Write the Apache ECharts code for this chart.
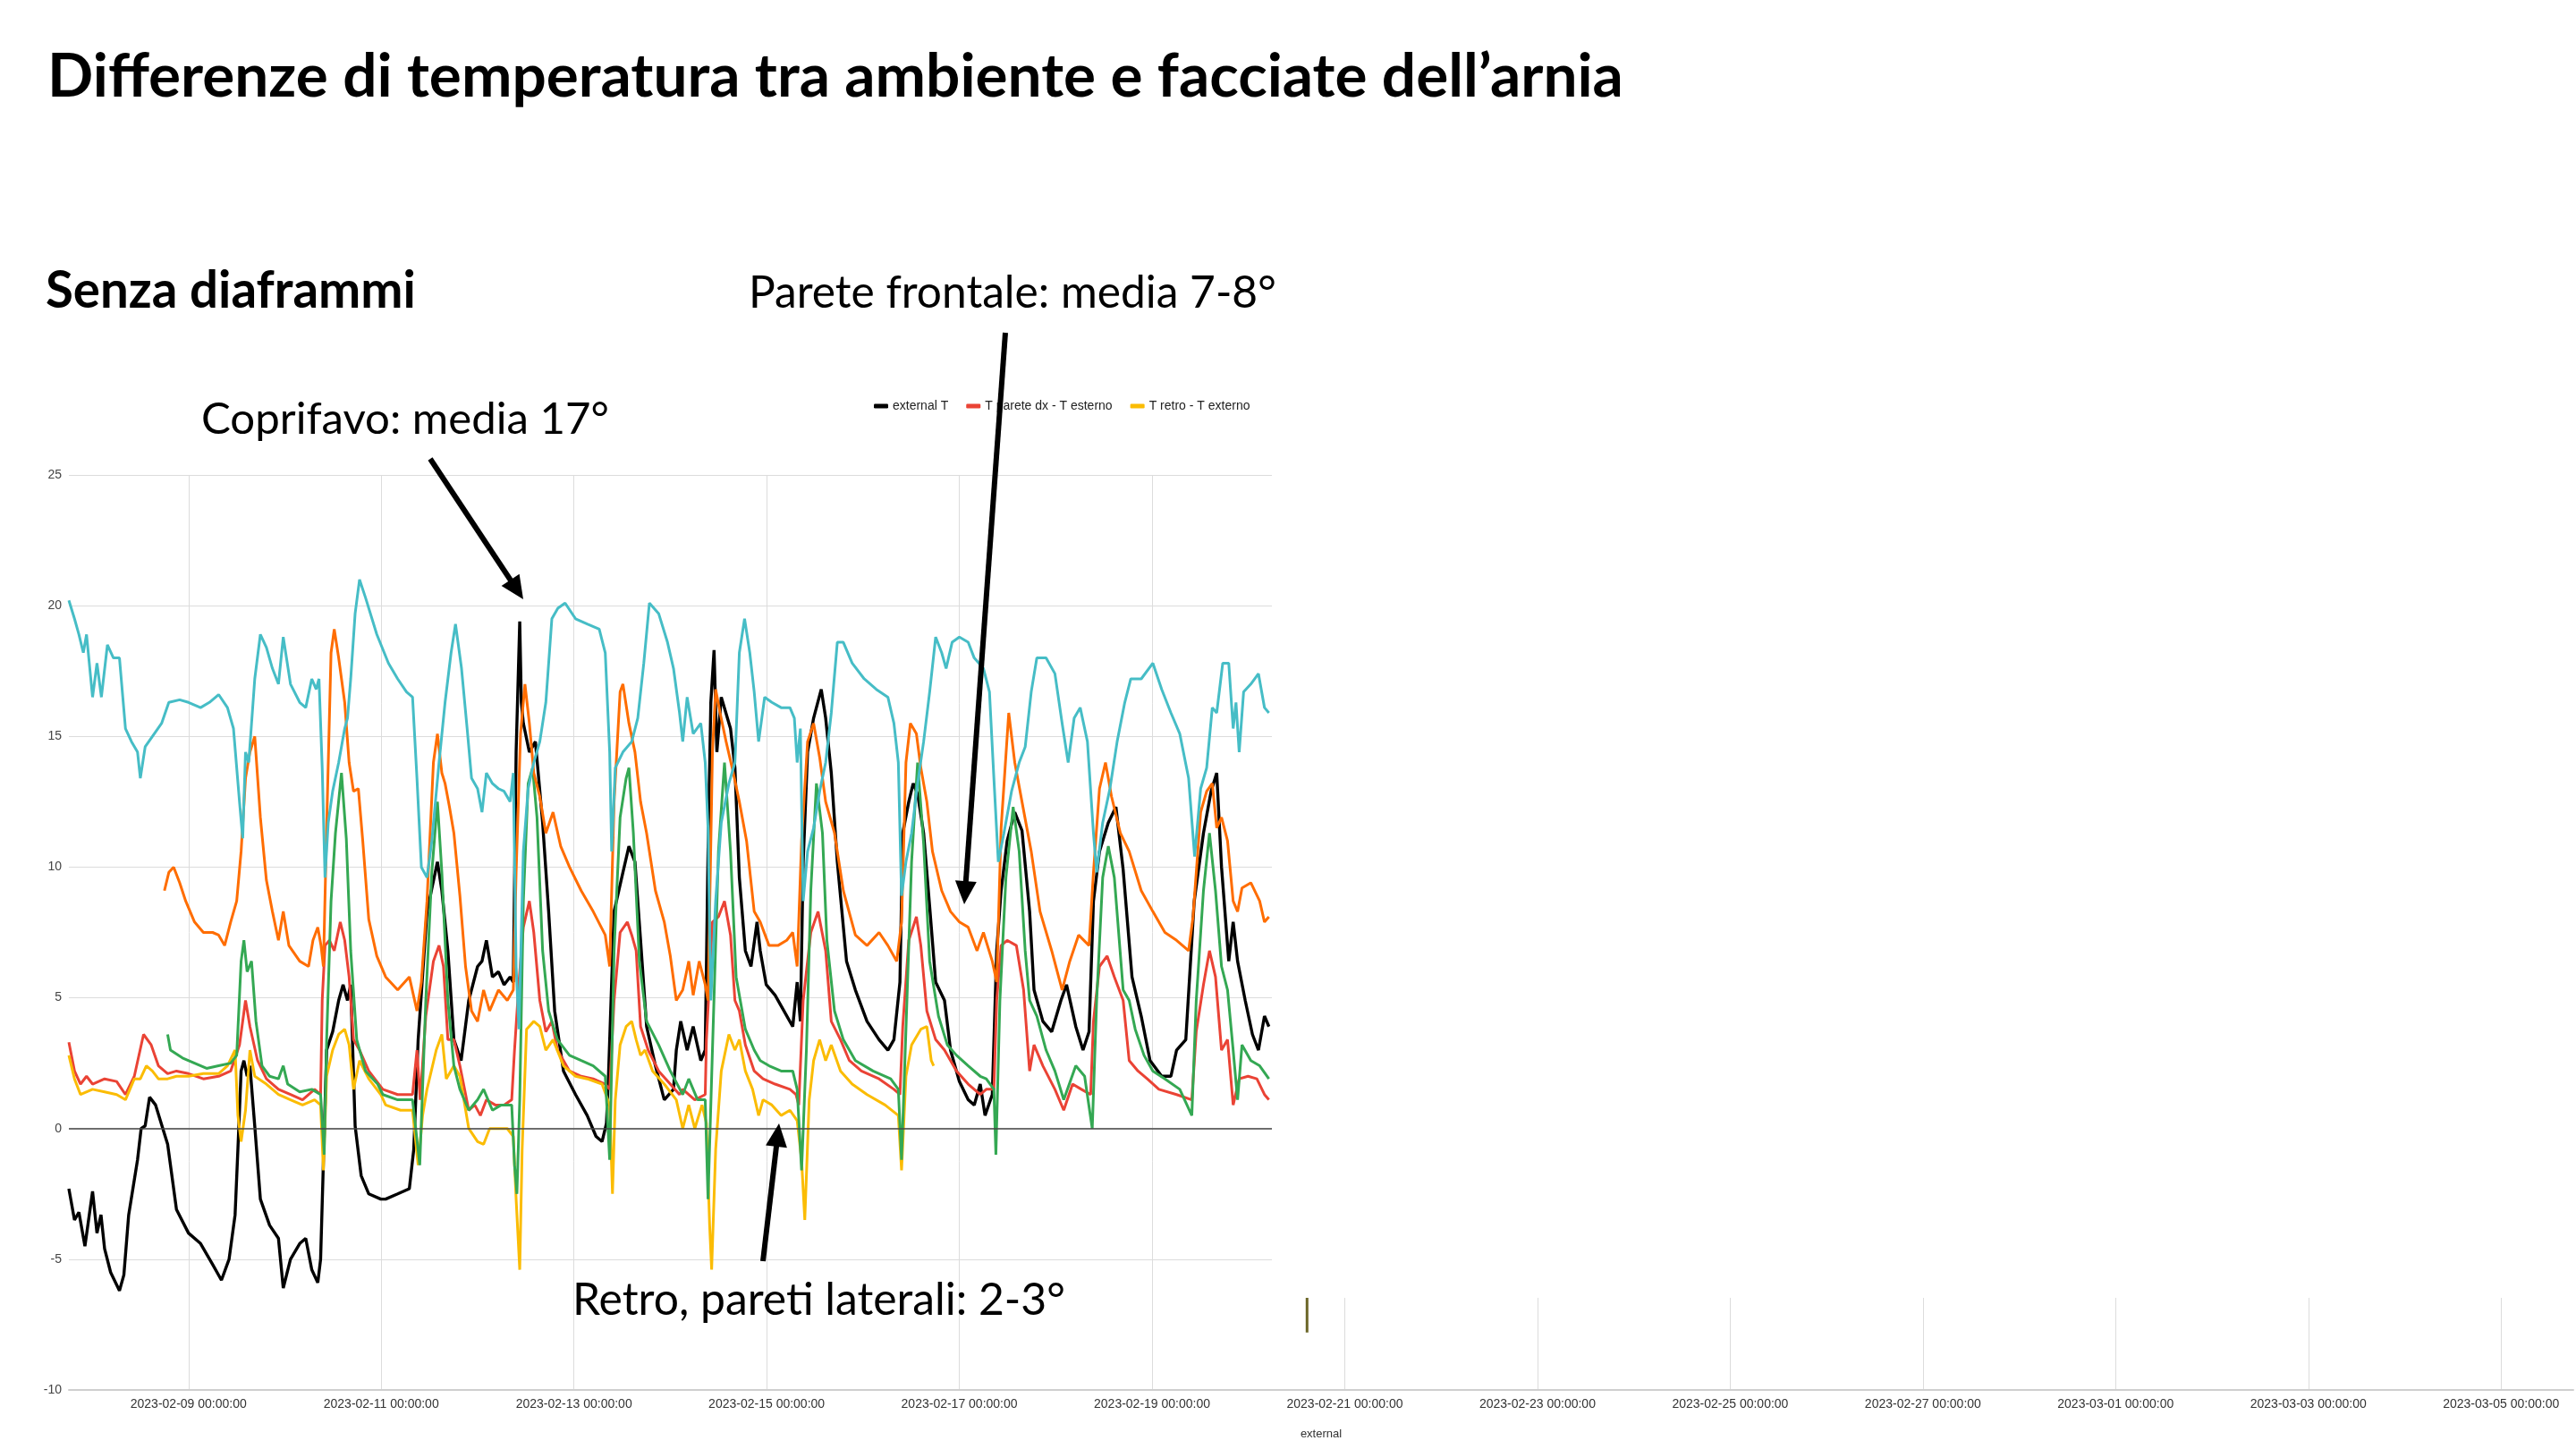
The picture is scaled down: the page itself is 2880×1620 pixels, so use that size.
<!DOCTYPE html>
<html><head><meta charset="utf-8">
<script src="https://cdn.jsdelivr.net/npm/echarts@6/dist/echarts.min.js"></script>
<style>html,body{margin:0;padding:0;background:#fff}#c{width:2880px;height:1620px}</style>
</head><body><div id="c"></div>
<script>
// x values are hours relative to 2023-02-09 00:00 (UTC)
const BASE = Date.UTC(2023, 1, 9);
const xMin = -29.8, xMax = 594;
const tickHours = [0,48,96,144,192,240,288,336,384,432,480,528,576];
const tickLabels = ['2023-02-09 00:00:00','2023-02-11 00:00:00','2023-02-13 00:00:00','2023-02-15 00:00:00','2023-02-17 00:00:00','2023-02-19 00:00:00','2023-02-21 00:00:00','2023-02-23 00:00:00','2023-02-25 00:00:00','2023-02-27 00:00:00','2023-03-01 00:00:00','2023-03-03 00:00:00','2023-03-05 00:00:00'];
const legendNames = ['external T','T parete dx - T esterno','T retro - T externo'];

const externalT = [[-29.8,-2.3],[-28.4,-3.5],[-27.3,-3.2],[-25.8,-4.5],[-23.9,-2.4],[-22.8,-4.0],[-21.8,-3.3],[-20.9,-4.6],[-19.4,-5.5],[-17.2,-6.2],[-16.1,-5.6],[-14.9,-3.3],[-12.7,-1.2],[-11.8,0.0],[-10.8,0.1],[-9.7,1.2],[-8.2,0.9],[-5.2,-0.6],[-3.0,-3.1],[0,-4.0],[3.0,-4.4],[6.0,-5.2],[8.2,-5.8],[10.1,-5.0],[11.6,-3.3],[12.3,-0.8],[13.1,2.2],[13.8,2.6],[14.6,2.0],[15.3,2.4],[16.5,0.1],[17.9,-2.7],[20.2,-3.7],[22.4,-4.2],[23.6,-6.1],[25.4,-5.0],[27.7,-4.4],[29.2,-4.2],[30.7,-5.4],[32.2,-5.9],[32.9,-5.0],[33.5,-1.8],[34.4,3.0],[35.9,3.7],[37.4,4.9],[38.5,5.5],[39.6,4.9],[40.4,5.5],[41.5,0.1],[43.0,-1.8],[44.9,-2.5],[47.9,-2.7],[49.1,-2.7],[52.1,-2.5],[55.0,-2.3],[56.1,-0.8],[57.2,3.4],[59.4,8.3],[62.0,10.2],[63.1,9.1],[64.6,6.8],[66.1,3.4],[67.9,2.6],[69.8,4.9],[72.0,6.2],[73.1,6.4],[74.2,7.2],[75.7,5.8],[77.2,6.0],[78.6,5.5],[80.1,5.8],[80.9,5.6],[81.6,14.4],[82.5,19.4],[82.9,16.3],[83.4,15.5],[84.9,14.4],[86.4,14.8],[87.1,13.6],[88.2,11.7],[89.7,8.3],[91.2,4.5],[93.4,2.2],[96.4,1.3],[99.3,0.5],[101.5,-0.3],[103.0,-0.5],[104.1,0.2],[104.6,2.0],[106.0,8.3],[108.2,9.8],[109.7,10.8],[111.2,10.2],[112.6,7.2],[114.1,3.9],[116.3,2.4],[118.5,1.1],[120.8,1.5],[121.5,3.0],[122.6,4.1],[124.2,3.0],[125.7,3.9],[127.6,2.6],[128.7,3.0],[129.4,10.6],[130.1,16.3],[130.9,18.3],[131.6,14.4],[132.7,16.5],[135.0,15.3],[136.1,13.8],[137.2,9.6],[138.7,6.8],[140.1,6.2],[141.6,7.9],[142.4,6.8],[143.9,5.5],[146.1,5.1],[148.3,4.5],[150.5,3.9],[151.6,5.6],[152.4,4.1],[153.1,10.2],[154.2,14.4],[155.7,15.7],[157.6,16.8],[158.7,15.7],[160.1,13.6],[161.6,10.2],[163.9,6.4],[166.1,5.3],[169.0,4.1],[172.0,3.4],[174.2,3.0],[175.7,3.4],[177.2,5.6],[177.9,11.3],[179.4,12.5],[180.5,13.2],[181.6,12.8],[183.1,11.3],[184.6,8.5],[186.1,5.6],[188.3,4.9],[189.8,3.0],[192.0,1.8],[194.2,1.1],[195.7,0.9],[197.2,1.7],[198.4,0.5],[200.2,1.3],[201.3,6.8],[202.4,9.1],[203.9,11.0],[205.8,12.1],[207.6,11.4],[209.5,8.3],[210.6,5.3],[212.8,4.1],[215.0,3.7],[217.3,4.9],[218.7,5.5],[221.0,3.9],[222.8,3.0],[224.3,3.7],[225.4,8.7],[226.9,10.6],[229.1,11.7],[231.0,12.3],[232.8,9.9],[235.0,5.8],[237.3,4.3],[239.5,2.6],[242.4,2.0],[244.7,2.0],[246.1,3.0],[248.4,3.4],[250.5,8.7],[252.8,11.3],[254.7,12.9],[256.1,13.6],[257.3,10.0],[259.1,6.4],[260.2,7.9],[261.3,6.4],[263.2,4.9],[265.0,3.6],[266.5,3.0],[268.0,4.3],[269.1,3.9]];

const pareteDx = [[-29.8,3.3],[-28.4,2.2],[-26.9,1.7],[-25.4,2.0],[-23.9,1.7],[-20.9,1.9],[-17.9,1.8],[-15.7,1.3],[-13.5,2.0],[-11.2,3.6],[-9.3,3.2],[-7.5,2.4],[-5.2,2.1],[-3.0,2.2],[0,2.1],[3.7,1.9],[7.5,2.0],[10.5,2.2],[12.7,3.2],[14.2,4.9],[15.3,3.9],[17.2,2.6],[19.4,1.9],[22.4,1.5],[25.4,1.3],[28.4,1.1],[31.4,1.5],[32.9,1.3],[33.3,4.9],[34.0,7.0],[35.1,7.2],[36.3,6.8],[37.8,7.9],[38.9,7.2],[40.0,5.8],[41.1,3.4],[42.6,3.0],[44.9,2.2],[48.4,1.5],[52.1,1.3],[55.8,1.3],[56.9,3.0],[57.7,1.1],[59.1,4.3],[61.0,6.4],[62.4,7.0],[63.5,6.2],[64.6,3.4],[66.1,3.4],[67.6,2.4],[69.8,0.7],[71.3,0.9],[72.7,0.5],[74.2,1.1],[76.4,0.9],[78.6,0.9],[80.5,1.1],[81.2,3.0],[82.3,5.6],[83.4,7.7],[84.9,8.7],[86.0,7.5],[87.5,4.9],[89.0,3.7],[90.5,4.1],[91.9,3.0],[94.9,2.2],[97.8,2.0],[100.8,1.9],[103.8,1.7],[104.9,1.5],[106.0,4.9],[107.5,7.5],[109.3,7.9],[110.4,7.4],[111.5,6.8],[112.6,3.9],[114.5,3.0],[117.1,2.2],[120.0,1.7],[122.3,1.3],[123.1,1.5],[126.1,1.1],[128.7,1.3],[129.0,3.4],[130.5,7.9],[132.0,8.1],[133.5,8.7],[135.0,7.4],[136.1,4.9],[137.2,4.5],[138.7,3.2],[140.9,2.2],[143.1,1.9],[146.1,1.7],[149.8,1.5],[151.3,1.3],[152.0,0.9],[153.1,4.9],[155.0,7.5],[156.8,8.3],[158.7,6.8],[160.1,4.1],[162.4,3.4],[164.6,2.6],[167.6,2.2],[172.0,1.9],[175.7,1.5],[177.2,1.3],[177.9,3.9],[179.4,7.2],[181.3,8.1],[182.4,7.0],[183.9,4.5],[186.1,3.4],[188.3,3.0],[191.3,2.2],[194.2,1.7],[197.2,1.3],[198.7,1.5],[200.6,1.5],[201.3,4.9],[202.4,7.0],[203.9,7.2],[206.2,7.0],[208.0,5.3],[209.5,2.2],[210.6,3.2],[212.8,2.4],[215.8,1.5],[218.0,0.7],[220.2,1.7],[222.4,1.5],[224.7,1.3],[225.4,4.1],[226.9,6.2],[228.8,6.6],[230.6,5.8],[232.8,4.9],[234.3,2.6],[236.5,2.2],[238.8,1.9],[241.7,1.5],[246.1,1.3],[249.9,1.1],[251.0,3.7],[252.8,5.5],[254.3,6.8],[255.8,5.8],[257.3,3.0],[258.8,3.4],[260.2,0.9],[261.7,1.9],[263.9,2.0],[266.1,1.9],[268.0,1.3],[269.1,1.1]];

const retro = [[-29.8,2.8],[-28.4,1.9],[-26.9,1.3],[-23.9,1.5],[-20.9,1.4],[-17.9,1.3],[-15.7,1.1],[-13.5,1.9],[-12.0,1.9],[-10.5,2.4],[-9.0,2.2],[-7.5,1.9],[-5.2,1.9],[-3.0,2.0],[0,2.0],[3.7,2.1],[7.5,2.1],[9.7,2.4],[11.6,3.0],[12.3,0.5],[13.1,-0.5],[14.2,0.7],[15.3,3.0],[16.5,2.0],[19.4,1.7],[22.4,1.3],[25.4,1.1],[28.4,0.9],[31.4,1.1],[32.9,0.9],[33.6,-1.6],[34.4,2.0],[35.9,3.0],[37.4,3.6],[38.9,3.8],[40.0,3.2],[41.1,1.5],[42.6,2.6],[44.9,1.9],[47.9,1.3],[49.1,0.9],[52.8,0.7],[55.8,0.7],[57.2,-1.4],[58.3,0.5],[59.4,1.5],[61.7,3.0],[63.1,3.6],[64.2,1.9],[66.1,2.4],[67.6,2.0],[69.8,0.0],[72.0,-0.5],[73.5,-0.6],[75.0,0.0],[77.2,0.0],[79.4,0.0],[80.9,-0.3],[81.6,-2.7],[82.5,-5.4],[83.1,-0.8],[84.2,3.8],[86.0,4.1],[87.5,3.9],[89.0,3.0],[90.8,3.4],[93.4,2.4],[96.4,2.0],[99.3,1.9],[103.0,1.7],[104.9,0.9],[105.6,-2.5],[106.3,1.1],[107.5,3.2],[109.0,3.9],[110.4,4.1],[111.5,3.4],[112.6,2.8],[113.7,3.0],[115.6,2.2],[118.5,1.7],[121.5,1.1],[123.1,0.0],[124.6,0.9],[126.1,0.0],[127.9,0.9],[129.0,0.2],[129.8,-3.7],[130.3,-5.4],[131.3,-0.8],[132.7,2.2],[134.6,3.6],[136.1,3.0],[137.2,3.4],[138.7,2.2],[140.5,1.5],[142.0,0.5],[143.1,1.1],[145.3,0.9],[147.6,0.5],[149.8,0.7],[151.6,0.3],[152.7,-1.2],[153.5,-3.5],[154.6,1.1],[155.7,2.6],[157.2,3.4],[158.7,2.6],[160.1,3.2],[162.4,2.2],[165.3,1.7],[169.0,1.3],[173.5,0.9],[176.8,0.5],[177.6,-1.6],[178.7,2.0],[180.1,3.2],[182.4,3.8],[183.9,3.9],[185.0,2.6],[185.6,2.4]];

const pareteSx = [[-5.2,3.6],[-4.5,3.0],[-1.5,2.7],[1.5,2.5],[4.5,2.3],[7.5,2.4],[10.5,2.5],[12.0,2.8],[13.1,6.4],[13.8,7.2],[14.6,6.0],[15.7,6.4],[16.8,4.1],[18.3,2.4],[20.2,2.0],[22.4,1.9],[23.6,2.4],[24.7,1.7],[27.7,1.4],[30.7,1.5],[32.9,1.3],[33.8,-1.0],[34.4,3.4],[35.5,8.7],[36.6,11.3],[38.1,13.6],[39.3,11.1],[40.4,6.8],[41.9,3.4],[44.1,2.2],[47.1,1.7],[48.4,1.3],[52.1,1.1],[55.8,1.1],[57.6,-1.4],[59.1,4.9],[60.6,9.8],[62.0,12.5],[63.1,9.8],[64.6,4.9],[66.1,2.4],[67.6,1.5],[69.8,0.7],[72.0,1.1],[73.5,1.5],[75.7,0.7],[77.9,0.9],[80.5,0.9],[81.2,-1.4],[81.8,-2.5],[82.5,1.1],[83.4,8.7],[84.6,13.2],[85.7,13.8],[86.8,11.9],[88.2,6.8],[89.7,4.5],[91.9,3.4],[94.9,2.8],[97.8,2.6],[100.8,2.4],[103.8,2.0],[104.9,-1.2],[106.0,6.8],[107.5,11.9],[109.0,13.4],[109.7,13.8],[110.8,11.3],[112.3,6.4],[114.1,4.1],[117.1,3.2],[120.0,2.2],[123.1,1.3],[124.6,1.9],[126.8,1.1],[128.7,1.1],[129.4,-2.7],[130.5,3.0],[132.0,10.6],[133.5,14.0],[135.0,10.6],[136.4,5.8],[138.7,3.8],[140.9,3.0],[142.4,2.6],[144.6,2.4],[147.6,2.2],[150.5,2.2],[151.6,1.5],[152.7,-1.6],[153.9,3.0],[155.0,9.1],[156.4,13.2],[157.9,11.3],[159.0,7.2],[160.9,4.5],[163.1,3.4],[166.1,2.6],[170.5,2.2],[174.9,1.9],[176.8,1.5],[177.6,-1.2],[178.7,3.8],[180.1,10.2],[181.6,14.0],[183.1,10.9],[184.6,6.4],[186.8,4.3],[189.0,3.2],[191.3,2.8],[194.2,2.4],[197.2,2.0],[198.7,1.9],[200.6,1.5],[201.1,-1.0],[202.1,4.9],[203.6,9.6],[205.4,12.3],[206.9,10.6],[208.4,6.8],[209.5,4.9],[211.3,4.3],[213.6,3.0],[215.8,2.2],[218.0,1.1],[221.0,2.4],[223.2,2.0],[225.1,0.0],[226.2,4.9],[227.7,9.6],[229.1,10.8],[230.6,9.6],[232.8,5.3],[234.3,4.9],[235.8,3.8],[238.0,2.8],[240.2,2.2],[243.2,1.9],[246.9,1.5],[249.9,0.5],[251.0,4.9],[252.8,9.1],[254.3,11.3],[255.8,9.1],[257.3,6.2],[258.8,5.3],[260.2,3.0],[261.3,1.1],[262.4,3.2],[264.6,2.6],[266.8,2.4],[269.1,1.9]];

const fronte = [[-6.0,9.1],[-4.9,9.8],[-3.7,10.0],[-2.2,9.4],[-0.7,8.7],[1.5,7.9],[3.7,7.5],[6.0,7.5],[7.5,7.4],[9.0,7.0],[10.5,7.9],[12.0,8.7],[13.1,10.6],[14.2,13.4],[15.3,14.4],[16.5,15.0],[17.9,11.9],[19.4,9.5],[20.9,8.3],[22.4,7.2],[23.6,8.3],[25.0,7.0],[27.7,6.4],[29.9,6.2],[31.0,7.2],[32.2,7.7],[33.0,7.0],[33.6,6.2],[34.4,11.5],[35.5,18.2],[36.3,19.1],[37.4,18.0],[38.9,16.3],[40.0,14.0],[41.1,12.9],[42.3,13.0],[43.4,11.0],[44.9,8.0],[46.9,6.6],[49.1,5.8],[52.1,5.3],[55.0,5.8],[56.9,4.5],[58.0,5.6],[59.4,8.7],[61.0,14.0],[62.0,15.1],[63.1,13.6],[63.9,13.2],[65.0,12.3],[66.1,11.3],[67.6,8.9],[69.0,6.2],[70.5,4.5],[72.0,4.1],[73.5,5.3],[75.0,4.5],[77.2,5.3],[79.4,4.9],[80.9,5.3],[81.6,9.8],[82.7,15.1],[83.8,17.0],[84.9,15.5],[86.0,13.6],[87.5,12.7],[89.0,11.3],[90.8,12.1],[92.7,10.8],[94.9,10.0],[97.8,9.1],[100.8,8.3],[103.8,7.4],[104.9,6.2],[106.0,12.5],[107.5,16.7],[108.2,17.0],[109.7,15.5],[111.2,14.4],[112.6,12.5],[114.1,11.3],[116.3,9.1],[118.5,7.9],[120.0,6.6],[121.5,4.9],[123.1,5.3],[124.6,6.4],[125.7,5.1],[127.2,6.4],[128.7,5.5],[129.4,4.9],[130.5,14.4],[131.3,16.8],[132.4,15.9],[133.9,14.8],[135.7,13.6],[137.2,12.5],[139.0,11.0],[140.9,8.3],[142.4,7.9],[144.6,7.0],[146.8,7.0],[149.0,7.2],[150.5,7.5],[151.6,6.2],[152.7,11.0],[154.2,14.8],[155.7,15.5],[157.2,14.2],[158.7,12.5],[160.9,11.3],[163.1,9.1],[166.1,7.4],[169.0,7.0],[172.0,7.5],[174.2,7.0],[176.4,6.4],[177.6,7.9],[178.7,14.0],[179.8,15.5],[181.3,15.1],[182.4,13.8],[183.9,12.5],[185.3,10.6],[187.6,9.1],[189.8,8.3],[192.0,7.9],[194.2,7.7],[196.4,6.8],[198.0,7.5],[200.2,6.4],[201.3,5.6],[202.4,11.5],[204.3,15.9],[205.8,14.0],[207.6,12.5],[209.9,10.6],[212.1,8.3],[215.0,6.8],[217.6,5.3],[219.5,6.4],[221.7,7.4],[224.3,7.0],[225.4,9.8],[226.9,13.0],[228.4,14.0],[229.9,12.7],[232.1,11.3],[234.3,10.6],[237.3,9.1],[240.2,8.3],[243.2,7.5],[246.1,7.2],[249.1,6.8],[250.2,8.1],[252.1,12.1],[253.6,12.9],[255.0,13.2],[256.1,11.5],[257.3,11.9],[258.8,11.0],[260.2,8.7],[261.3,8.3],[262.4,9.2],[264.6,9.4],[266.8,8.7],[268.0,7.9],[269.1,8.1]];

const coprifavo = [[-29.8,20.2],[-28.4,19.5],[-27.3,18.9],[-26.2,18.2],[-25.4,18.9],[-23.9,16.5],[-22.8,17.8],[-21.7,16.5],[-20.2,18.5],[-18.7,18.0],[-17.2,18.0],[-15.7,15.3],[-14.2,14.8],[-12.7,14.4],[-12.0,13.4],[-10.8,14.6],[-9.0,15.0],[-6.7,15.5],[-4.9,16.3],[-2.2,16.4],[0,16.3],[3.0,16.1],[5.2,16.3],[7.5,16.6],[9.7,16.1],[11.2,15.3],[12.7,12.5],[13.5,11.1],[14.2,14.4],[15.0,14.0],[16.5,17.2],[17.9,18.9],[19.4,18.4],[20.9,17.6],[22.4,17.0],[23.6,18.8],[25.4,17.0],[27.7,16.3],[29.2,16.1],[30.7,17.2],[31.8,16.8],[32.5,17.2],[33.3,13.8],[34.0,9.6],[34.8,11.7],[35.9,12.9],[37.4,14.0],[38.9,15.3],[39.6,15.7],[40.4,17.2],[41.5,19.7],[42.6,21.0],[44.1,20.3],[46.9,18.9],[49.8,17.8],[52.1,17.2],[54.3,16.7],[55.8,16.5],[56.9,13.4],[58.0,10.0],[59.4,9.6],[60.6,11.0],[62.4,14.0],[63.9,16.3],[65.4,18.2],[66.5,19.3],[68.0,17.6],[69.4,15.3],[70.5,13.4],[72.0,13.0],[73.1,12.1],[74.2,13.6],[75.7,13.2],[77.2,13.0],[78.6,12.9],[80.1,12.5],[80.9,13.6],[81.6,6.2],[82.3,3.8],[83.4,10.6],[84.6,13.0],[86.0,14.0],[87.5,14.8],[89.0,16.3],[90.5,19.5],[92.0,19.9],[93.8,20.1],[96.4,19.5],[99.3,19.3],[102.3,19.1],[103.8,18.2],[104.9,14.4],[105.4,10.6],[106.3,13.8],[108.2,14.4],[110.4,14.8],[111.9,15.7],[113.4,17.8],[114.8,20.1],[117.1,19.7],[119.3,18.6],[120.8,17.6],[122.3,15.9],[123.1,14.8],[124.2,16.5],[125.7,15.1],[127.6,15.5],[128.7,14.0],[129.4,11.5],[130.1,4.9],[131.3,8.7],[132.7,11.7],[134.6,13.2],[136.1,14.0],[137.2,18.2],[138.5,19.5],[139.8,18.2],[140.9,16.7],[142.0,14.8],[143.5,16.5],[145.3,16.3],[147.6,16.1],[149.8,16.1],[150.9,15.7],[151.6,14.0],[152.4,15.3],[153.1,8.7],[154.2,10.6],[155.7,11.5],[157.2,12.9],[158.7,14.0],[160.1,15.9],[161.6,18.6],[163.1,18.6],[165.3,17.8],[168.3,17.2],[171.3,16.8],[174.2,16.5],[175.7,15.5],[176.8,14.0],[177.6,8.9],[178.7,10.2],[180.1,11.3],[181.6,13.2],[183.1,14.8],[184.6,16.7],[186.1,18.8],[187.6,18.2],[188.7,17.6],[190.2,18.6],[192.0,18.8],[194.2,18.6],[195.7,18.0],[198.0,17.6],[199.5,16.7],[200.6,13.4],[201.7,10.2],[203.1,11.3],[205.0,12.9],[206.9,14.0],[208.4,14.6],[209.9,16.7],[211.3,18.0],[213.6,18.0],[215.8,17.4],[217.6,15.5],[219.1,14.0],[220.6,15.7],[222.1,16.1],[223.9,14.8],[225.4,11.3],[226.2,9.8],[227.7,11.7],[229.5,13.0],[231.3,14.8],[233.2,16.3],[234.7,17.2],[237.3,17.2],[240.2,17.8],[242.4,16.8],[244.7,15.9],[246.9,15.1],[249.1,13.4],[250.6,10.4],[252.1,13.0],[253.6,13.8],[255.0,16.1],[256.1,15.9],[257.6,17.8],[259.1,17.8],[260.2,15.3],[260.9,16.3],[261.7,14.4],[262.8,16.7],[264.6,17.0],[266.5,17.4],[268.0,16.1],[269.1,15.9]];

const externalStray = [[278.6,-6.45],[278.6,-7.8]];

// ---------- text helpers ----------
const cv = document.createElement('canvas').getContext('2d');
function fitSize(text, weight, family, width) {
  cv.font = weight + ' 100px ' + family;
  return 100 * width / cv.measureText(text).width;
}
function slideText(text, x, baseline, width, weight) {
  const fam = 'Lato';
  const s = fitSize(text, weight, fam, width);
  return {type:'text', x:x, y:baseline - 0.32 * s, z:60,
    style:{text:text, fontFamily:fam, fontWeight:weight, fontSize:s, fill:'#000',
      align:'left', verticalAlign:'middle', textAlign:'left', textVerticalAlign:'middle'}};
}
function arrow(x1, y1, x2, y2, w, hl, hw) {
  const dx = x2 - x1, dy = y2 - y1, L = Math.hypot(dx, dy), ux = dx / L, uy = dy / L;
  const bx = x2 - ux * hl, by = y2 - uy * hl;
  return [
    {type:'line', z:60, shape:{x1:x1, y1:y1, x2:bx + ux * 2, y2:by + uy * 2}, style:{stroke:'#000', lineWidth:w}},
    {type:'polygon', z:60, shape:{points:[[x2, y2], [bx - uy * hw, by + ux * hw], [bx + uy * hw, by - ux * hw]]}, style:{fill:'#000'}}
  ];
}

function lineSeries(name, data, color, width, z) {
  return {name:name, type:'line', data:data, showSymbol:false, symbol:'none', z:z,
    lineStyle:{color:color, width:width}, itemStyle:{color:color}, emphasis:{disabled:true}};
}

const chart = echarts.init(document.getElementById('c'), null, {renderer:'canvas'});
const series = [
  lineSeries('external', externalStray, '#6b6628', 3, 2),
  lineSeries(legendNames[0], externalT, '#000000', 3.4, 3),
  lineSeries(legendNames[1], pareteDx, '#ea4335', 3, 3),
  lineSeries(legendNames[2], retro, '#fbbc04', 3, 3),
  lineSeries('T parete sx - T esterno', pareteSx, '#34a853', 3, 3),
  lineSeries('T fronte - T esterno', fronte, '#ff6d01', 3, 3),
  lineSeries('T coprifavo - T esterno', coprifavo, '#46bdc6', 3, 3)
];
series[1].markLine = {silent:true, symbol:'none', label:{show:false},
  lineStyle:{color:'#444', width:1.5, type:'solid'}, data:[{yAxis:0}]};

chart.setOption({
  animation:false,
  backgroundColor:'#ffffff',
  grid:{left:77, right:3, top:531, bottom:66, containLabel:false, outerBoundsMode:'none'},
  legend:{data:legendNames, left:972, top:442, icon:'roundRect', itemWidth:16, itemHeight:5,
    itemGap:20, textStyle:{fontFamily:'Liberation Sans', fontSize:14, color:'#222'}},
  xAxis:{type:'value', min:xMin, max:xMax,
    axisLine:{show:true, onZero:false, lineStyle:{color:'#cfcfcf', width:2}},
    axisTick:{show:false, customValues:tickHours},
    axisLabel:{customValues:tickHours, margin:9, fontFamily:'Liberation Sans', fontSize:14, color:'#333',
      formatter:function(v){ const i = tickHours.indexOf(Math.round(v)); return i >= 0 ? tickLabels[i] : ''; }},
    splitLine:{show:true, lineStyle:{color:'#dcdcdc', width:1}}},
  yAxis:{type:'value', min:-10, max:25, interval:5,
    axisLine:{show:false}, axisTick:{show:false},
    axisLabel:{margin:8, fontFamily:'Liberation Sans', fontSize:14, color:'#444'},
    splitLine:{show:true, lineStyle:{color:'#dcdcdc', width:1}}},
  series:series,
  graphic:{elements:[
    {type:'rect', z:50, shape:{x:1422, y:515, width:1458, height:936}, style:{fill:'#ffffff'}},
    slideText('Differenze di temperatura tra ambiente e facciate dell\u2019arnia', 53, 108, 1762, 'bold'),
    slideText('Senza diaframmi', 51, 344, 414, 'bold'),
    slideText('Parete frontale: media 7-8\u00b0', 837, 344, 590, 'normal'),
    slideText('Coprifavo: media 17\u00b0', 225, 485, 456, 'normal'),
    slideText('Retro, pareti laterali: 2-3\u00b0', 640, 1470, 551, 'normal'),
    ...arrow(481, 513, 585, 670, 6, 26, 12),
    ...arrow(1124, 372, 1078, 1011, 6, 26, 12),
    ...arrow(853, 1410, 871, 1256, 6, 26, 12),
    {type:'text', x:1477, y:1603, z:60, style:{text:'external', fontFamily:'Liberation Sans', fontSize:13, fill:'#333',
      align:'center', verticalAlign:'middle', textAlign:'center', textVerticalAlign:'middle'}}
  ]}
});
</script>
</body></html>
